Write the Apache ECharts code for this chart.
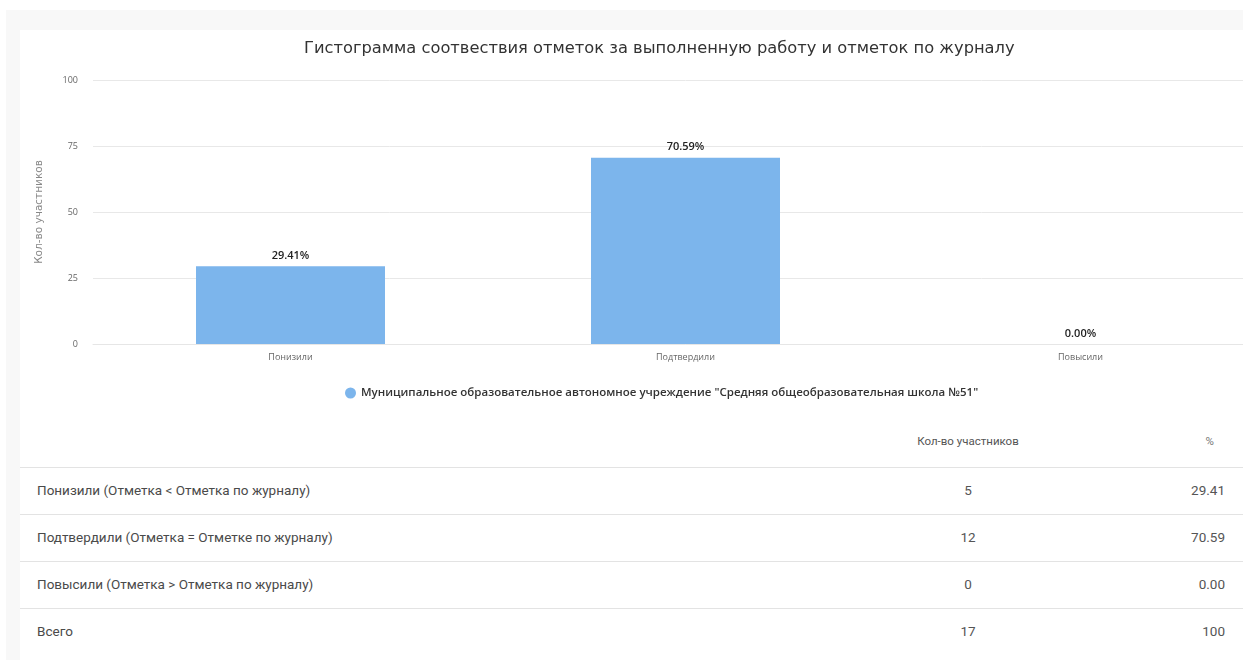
<!DOCTYPE html>
<html>
<head>
<meta charset="utf-8">
<script src="https://cdn.jsdelivr.net/npm/echarts@6/dist/echarts.min.js"></script>
<style>
  html, body { margin: 0; padding: 0; background: #ffffff; width: 1243px; height: 660px; overflow: hidden; font-family: Roboto, "Noto Sans", sans-serif; position: relative; }
  #bg { position: absolute; left: 6px; top: 10px; width: 1237px; height: 650px; background: #f8f8f8; }
  #card { position: absolute; left: 20px; top: 30px; width: 1223px; height: 630px; background: #ffffff; }
  #chart { position: absolute; left: 0; top: 0; width: 1290px; height: 410px; }
  #tbl { position: absolute; left: 20px; top: 421px; width: 1223px; }
  .row { position: relative; height: 46px; border-bottom: 1px solid #e3e3e3; }
  .row.last { border-bottom: none; }
  .c1 { position: absolute; left: 17px; top: 0; line-height: 44px; font-size: 13.5px; color: #4a4a4a; }
  .c2 { position: absolute; left: 848px; width: 200px; top: 0; line-height: 44px; font-size: 13.5px; color: #555; text-align: center; }
  .c3 { position: absolute; right: 18px; top: 0; line-height: 44px; font-size: 13.5px; color: #555; text-align: right; }
  .hdr .c2 { font-size: 11.5px; color: #555; line-height: 40px; }
  .hdr .c3 { font-size: 11.5px; color: #777; right: 29px; line-height: 40px; }
</style>
</head>
<body>
<div id="bg"></div>
<div id="card"></div>
<div id="chart"></div>
<div id="tbl"></div>
<script>
const categories = ['Понизили', 'Подтвердили', 'Повысили'];
const percentValues = [29.41, 70.59, 0.00];
const yTicks = [0, 25, 50, 75, 100];
const seriesName = 'Муниципальное образовательное автономное учреждение "Средняя общеобразовательная школа №51"';
const chartTitle = 'Гистограмма соотвествия отметок за выполненную работу и отметок по журналу';
const yAxisName = 'Кол-во участников';

const tableHeaders = ['', 'Кол-во участников', '%'];
const tableRowLabels = ['Понизили (Отметка < Отметка по журналу)', 'Подтвердили (Отметка = Отметке по журналу)', 'Повысили (Отметка > Отметка по журналу)', 'Всего'];
const tableCounts = ['5', '12', '0', '17'];
const tablePercents = ['29.41', '70.59', '0.00', '100'];

const chart = echarts.init(document.getElementById('chart'), null, { renderer: 'canvas' });
chart.setOption({
  backgroundColor: 'transparent',
  animation: false,
  title: {
    text: chartTitle,
    left: 299,
    top: 36,
    textStyle: { fontFamily: 'DejaVu Sans', fontSize: 16.3, fontWeight: 'normal', color: '#333' }
  },
  legend: {
    data: [seriesName],
    top: 382,
    left: 340,
    icon: 'circle',
    itemWidth: 11,
    itemHeight: 11,
    itemGap: 6,
    textStyle: { fontFamily: 'Open Sans', fontSize: 11.5, fontWeight: 600, color: '#333' }
  },
  grid: { left: 93, right: 12, top: 80, height: 264, containLabel: false },
  xAxis: {
    type: 'category',
    data: categories,
    axisLine: { lineStyle: { color: '#e6e6e6' } },
    axisTick: { show: false },
    axisLabel: { margin: 9, fontFamily: 'Open Sans', fontSize: 9, color: '#666' }
  },
  yAxis: {
    type: 'value',
    min: yTicks[0],
    max: yTicks[yTicks.length - 1],
    interval: 25,
    name: yAxisName,
    nameLocation: 'middle',
    nameGap: 48,
    nameTextStyle: { fontFamily: 'DejaVu Sans', fontSize: 10.5, color: '#888' },
    axisLine: { show: false },
    axisTick: { show: false },
    axisLabel: { margin: 15, fontFamily: 'Open Sans', fontSize: 9, color: '#666' },
    splitLine: { lineStyle: { color: '#e8e8e8' } }
  },
  series: [{
    name: seriesName,
    type: 'bar',
    data: percentValues,
    barWidth: 189,
    itemStyle: { color: '#7cb5ec' },
    label: {
      show: true,
      position: 'top',
      distance: 5,
      formatter: p => p.value.toFixed(2) + '%',
      fontFamily: 'Open Sans',
      fontSize: 11,
      fontWeight: 600,
      color: '#222'
    }
  }]
});

const tbl = document.getElementById('tbl');
function esc(s) { return s.replace(/&/g, '&amp;').replace(/</g, '&lt;').replace(/>/g, '&gt;'); }
let html = '<div class="row hdr"><div class="c1">' + esc(tableHeaders[0]) + '</div><div class="c2">' + esc(tableHeaders[1]) + '</div><div class="c3">' + esc(tableHeaders[2]) + '</div></div>';
for (let i = 0; i < tableRowLabels.length; i++) {
  html += '<div class="row' + (i === tableRowLabels.length - 1 ? ' last' : '') + '"><div class="c1">' + esc(tableRowLabels[i]) + '</div><div class="c2">' + tableCounts[i] + '</div><div class="c3">' + tablePercents[i] + '</div></div>';
}
tbl.innerHTML = html;
</script>
</body>
</html>
